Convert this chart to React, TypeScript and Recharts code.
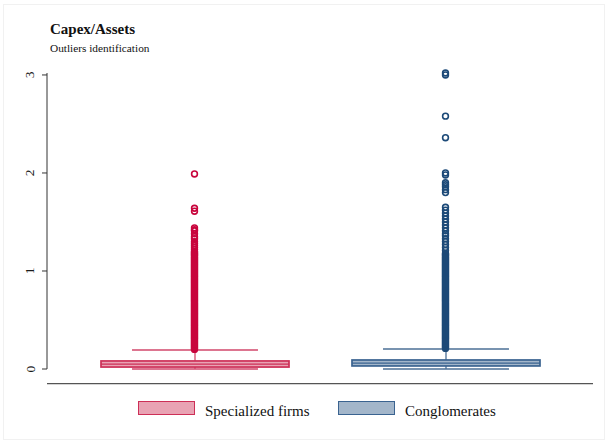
import { ComposedChart, Bar, Scatter, XAxis, YAxis, ReferenceLine } from "recharts";

// box statistics, one entry per group
const CATEGORIES = ["Specialized firms", "Conglomerates"];
const WHISKER_LOW = [0, 0];
const Q1 = [0.02, 0.031];
const MEDIAN = [0.05, 0.06];
const Q3 = [0.082, 0.092];
const WHISKER_HIGH = [0.194, 0.204];

// observations beyond the upper adjacent value
const SPECIALIZED_OUTLIERS = [
  1.99, 1.64, 1.61, 1.44, 1.42, 1.41, 1.38, 1.35, 1.33, 1.3, 1.28, 1.26, 1.24,
  1.22, 1.2, 1.19, 1.18, 1.17, 1.16, 1.15, 1.14, 1.13, 1.12, 1.11, 1.1, 1.09,
  1.08, 1.07, 1.06, 1.05, 1.04, 1.03, 1.02, 1.01, 1.0, 0.99, 0.98, 0.97, 0.96,
  0.95, 0.94, 0.93, 0.92, 0.91, 0.9, 0.89, 0.88, 0.87, 0.86, 0.85, 0.84, 0.83,
  0.82, 0.81, 0.8, 0.79, 0.78, 0.77, 0.76, 0.75, 0.74, 0.73, 0.72, 0.71, 0.7,
  0.69, 0.68, 0.67, 0.66, 0.65, 0.64, 0.63, 0.62, 0.61, 0.6, 0.59, 0.58, 0.57,
  0.56, 0.55, 0.54, 0.53, 0.52, 0.51, 0.5, 0.49, 0.48, 0.47, 0.46, 0.45, 0.44,
  0.43, 0.42, 0.41, 0.4, 0.39, 0.38, 0.37, 0.36, 0.35, 0.34, 0.33, 0.32, 0.31,
  0.3, 0.29, 0.28, 0.27, 0.26, 0.25, 0.24, 0.23, 0.22, 0.21, 0.2,
];
const CONGLOMERATE_OUTLIERS = [
  3.02, 3.0, 2.58, 2.36, 2.0, 1.98, 1.9, 1.88, 1.86, 1.83, 1.8, 1.65, 1.62,
  1.59, 1.56, 1.53, 1.5, 1.47, 1.44, 1.41, 1.38, 1.36, 1.33, 1.3, 1.27, 1.24,
  1.21, 1.18, 1.17, 1.16, 1.15, 1.14, 1.13, 1.12, 1.11, 1.1, 1.09, 1.08, 1.07,
  1.06, 1.05, 1.04, 1.03, 1.02, 1.01, 1.0, 0.99, 0.98, 0.97, 0.96, 0.95, 0.94,
  0.93, 0.92, 0.91, 0.9, 0.89, 0.88, 0.87, 0.86, 0.85, 0.84, 0.83, 0.82, 0.81,
  0.8, 0.79, 0.78, 0.77, 0.76, 0.75, 0.74, 0.73, 0.72, 0.71, 0.7, 0.69, 0.68,
  0.67, 0.66, 0.65, 0.64, 0.63, 0.62, 0.61, 0.6, 0.59, 0.58, 0.57, 0.56, 0.55,
  0.54, 0.53, 0.52, 0.51, 0.5, 0.49, 0.48, 0.47, 0.46, 0.45, 0.44, 0.43, 0.42,
  0.41, 0.4, 0.39, 0.38, 0.37, 0.36, 0.35, 0.34, 0.33, 0.32, 0.31, 0.3, 0.29,
  0.28, 0.27, 0.26, 0.25, 0.24, 0.23, 0.22, 0.21,
];

const Y_TICKS = [0, 1, 2, 3];
const AXIS_BASE = -0.15;

const SERIF = '"Liberation Serif", "Times New Roman", serif';

const PALETTE = [
  { dot: "#c8053d", line: "#d2476b", fill: "#e9a3b4", stroke: "#cd2f57" },
  { dot: "#1d4a78", line: "#4b6f96", fill: "#a3b6ca", stroke: "#3a6390" },
];

const boxData = CATEGORIES.map((name, i) => ({
  name,
  low: WHISKER_LOW[i],
  q1: Q1[i],
  median: MEDIAN[i],
  q3: Q3[i],
  high: WHISKER_HIGH[i],
}));

const outlierData = [SPECIALIZED_OUTLIERS, CONGLOMERATE_OUTLIERS].map((vals, i) =>
  vals.map((value) => ({ name: CATEGORIES[i], value }))
);

function BoxShape(props: any) {
  const { x, y, width, height, payload } = props;
  const { low, high, q1, median, q3 } = payload;
  const c = PALETTE[CATEGORIES.indexOf(payload.name)];
  // the bar spans low..high, so interpolate inside it for the quartiles
  const toY = (v: number) => y + (height * (high - v)) / (high - low);
  const cx = x + width / 2;
  const cap = width * 0.67;
  return (
    <g>
      <line x1={cx} x2={cx} y1={toY(high)} y2={toY(q3)} stroke={c.line} strokeWidth={1.3} />
      <line x1={cx} x2={cx} y1={toY(q1)} y2={toY(low)} stroke={c.line} strokeWidth={1.3} />
      <line x1={cx - cap / 2} x2={cx + cap / 2} y1={toY(high)} y2={toY(high)} stroke={c.line} strokeWidth={1.3} />
      <line x1={cx - cap / 2} x2={cx + cap / 2} y1={toY(low)} y2={toY(low)} stroke={c.line} strokeWidth={1.3} />
      <rect
        x={x}
        y={toY(q3)}
        width={width}
        height={toY(q1) - toY(q3)}
        fill={c.fill}
        stroke={c.stroke}
        strokeWidth={1.7}
      />
      <line x1={x} x2={x + width} y1={toY(median)} y2={toY(median)} stroke={c.stroke} strokeWidth={1.3} />
    </g>
  );
}

function makeDot(color: string) {
  return (props: any) => (
    <circle cx={props.cx} cy={props.cy} r={2.9} fill="none" stroke={color} strokeWidth={1.6} />
  );
}

function YTick(props: any) {
  const { x, y, payload } = props;
  const tx = x - 4;
  return (
    <text
      x={tx}
      y={y}
      transform={`rotate(-90, ${tx}, ${y})`}
      textAnchor="middle"
      dominantBaseline="central"
      fontFamily={SERIF}
      fontSize={13.5}
      fill="#1a1a1a"
    >
      {payload.value}
    </text>
  );
}

export default function App() {
  return (
    <div
      style={{
        position: "absolute",
        left: 0,
        top: 0,
        width: 608,
        height: 443,
        background: "#fff",
        fontFamily: SERIF,
        color: "#111",
      }}
    >
      <div
        style={{
          position: "absolute",
          left: 3,
          top: 4,
          width: 600,
          height: 434,
          border: "1px solid #f1f1f1",
        }}
      />
      <div style={{ position: "absolute", left: 50, top: 22.4, fontSize: 15, fontWeight: 700, lineHeight: 1 }}>
        Capex/Assets
      </div>
      <div style={{ position: "absolute", left: 50, top: 43, fontSize: 11.3, lineHeight: 1 }}>
        Outliers identification
      </div>

      <ComposedChart
        width={608}
        height={443}
        data={boxData}
        margin={{ top: 73, right: 15, bottom: 74, left: 7 }}
      >
        <XAxis
          dataKey="name"
          type="category"
          allowDuplicatedCategory={false}
          hide
          padding={{ left: 22, right: 22 }}
        />
        <YAxis
          type="number"
          domain={[0, 3]}
          ticks={Y_TICKS}
          interval={0}
          width={40}
          tickSize={5}
          tickMargin={8}
          axisLine={{ stroke: "#333" }}
          tickLine={{ stroke: "#333" }}
          tick={<YTick />}
        />
        <ReferenceLine y={AXIS_BASE} stroke="#555" strokeWidth={1.2} ifOverflow="visible" />
        <Bar
          dataKey={(d: any) => [d.low, d.high]}
          barSize={188}
          shape={BoxShape}
          isAnimationActive={false}
        />
        {outlierData.map((pts, i) => (
          <Scatter
            key={CATEGORIES[i]}
            data={pts}
            dataKey="value"
            shape={makeDot(PALETTE[i].dot)}
            isAnimationActive={false}
          />
        ))}
      </ComposedChart>

      {CATEGORIES.map((name, i) => (
        <div key={name}>
          <div
            style={{
              position: "absolute",
              left: [138, 338][i],
              top: 401,
              width: 55,
              height: 12,
              background: PALETTE[i].fill,
              border: `1.5px solid ${PALETTE[i].stroke}`,
            }}
          />
          <div
            style={{
              position: "absolute",
              left: [205, 405][i],
              top: 404,
              fontSize: 15,
              lineHeight: 1,
              whiteSpace: "nowrap",
            }}
          >
            {name}
          </div>
        </div>
      ))}
    </div>
  );
}
